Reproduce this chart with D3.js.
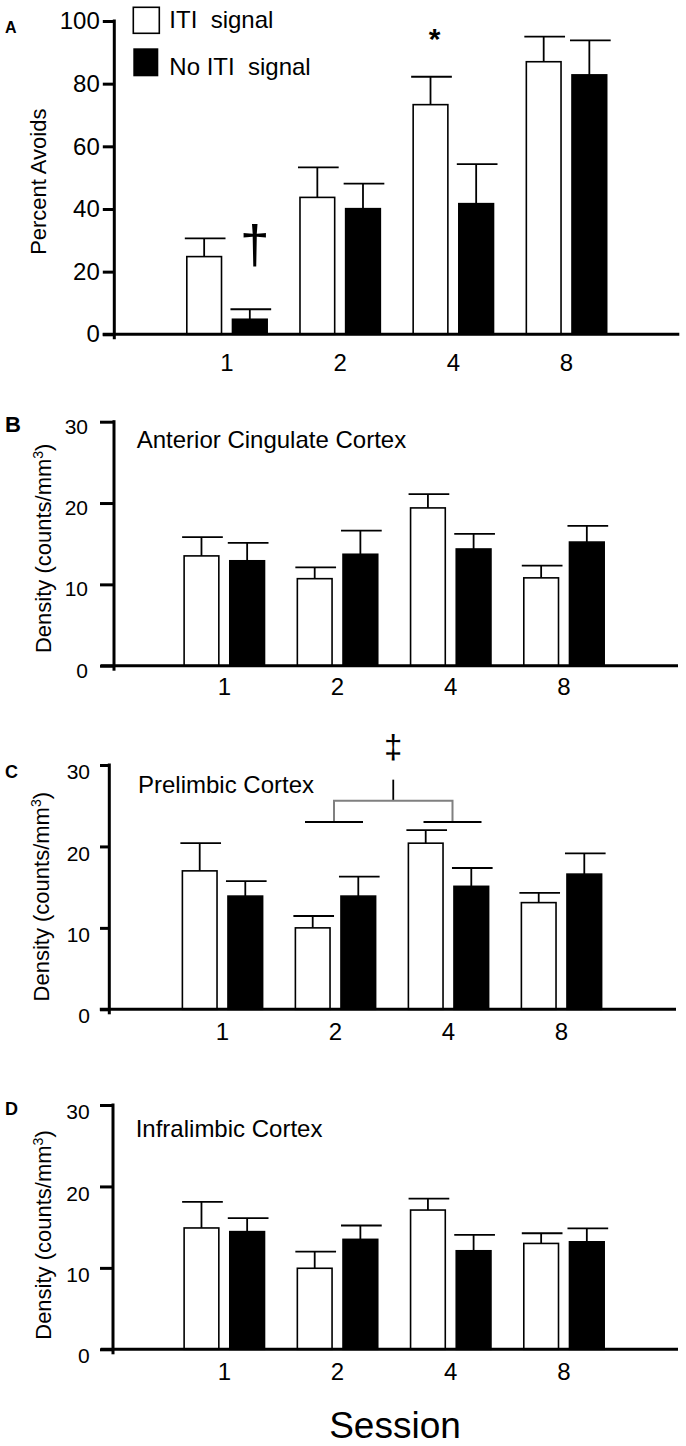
<!DOCTYPE html>
<html>
<head>
<meta charset="utf-8">
<script src="https://cdn.jsdelivr.net/npm/d3@7"></script>
<style>
  html, body { margin: 0; padding: 0; background: #fff; }
  svg { display: block; font-family: "Liberation Sans", Arial, Helvetica, sans-serif; }
</style>
</head>
<body>
<svg id="chart"></svg>
<script>
// ── DATA ───────────────────────────────────────────────────────────────────
const sessions = ["1", "2", "4", "8"];
const groups   = ["ITI signal", "No ITI signal"];

// A: percent avoids
const avoidITI      = [24.8, 43.7, 73.3, 87.0];
const avoidITIErr   = [5.8, 9.6, 8.9, 8.0];
const avoidNoITI    = [4.8, 40.1, 41.7, 82.8];
const avoidNoITIErr = [3.2, 8.0, 12.6, 11.0];

// B: anterior cingulate cortex density
const accITI      = [13.5, 10.7, 19.4, 10.8];
const accITIErr   = [2.3, 1.4, 1.7, 1.5];
const accNoITI    = [12.9, 13.7, 14.35, 15.2];
const accNoITIErr = [2.2, 2.9, 1.85, 2.0];

// C: prelimbic cortex density
const plITI      = [17.0, 10.0, 20.4, 13.1];
const plITIErr   = [3.4, 1.46, 1.6, 1.2];
const plNoITI    = [13.9, 13.9, 15.1, 16.6];
const plNoITIErr = [1.85, 2.4, 2.25, 2.55];

// D: infralimbic cortex density
const ilITI      = [14.9, 9.95, 17.1, 13.0];
const ilITIErr   = [3.2, 2.05, 1.4, 1.25];
const ilNoITI    = [14.45, 13.5, 12.1, 13.2];
const ilNoITIErr = [1.65, 1.7, 1.95, 1.65];

const percentTicks = [0, 20, 40, 60, 80, 100];
const densityTicks = [0, 10, 20, 30];

// ── LAYOUT ────────────────────────────────────────────────────────────────
const W = 686, H = 1446;
const FONT = '"Liberation Sans", Arial, Helvetica, sans-serif';

const svg = d3.select("#chart").attr("width", W).attr("height", H);

const panels = [
  { letter: "A", letterSize: 16, letterY: 33.3,
    iti: avoidITI, itiErr: avoidITIErr, no: avoidNoITI, noErr: avoidNoITIErr,
    yMax: 100, ticks: percentTicks,
    axisX: 114.3, y0: 334.3, yTop: 21, xRange: [170.4, 623.1], line: [102.7, 679.3],
    tickSize: 11.5, tickPad: 3, yFont: 24, yDy: "0.32em", xPad: 20,
    yTitle: "Percent Avoids", yTitlePos: [46, 181.7] },
  { letter: "B", letterSize: 22, letterY: 431.7,
    iti: accITI, itiErr: accITIErr, no: accNoITI, noErr: accNoITIErr,
    yMax: 30, ticks: densityTicks,
    axisX: 114, y0: 665.7, yTop: 421.7, xRange: [167.7, 620.6], line: [100.7, 678],
    tickSize: 14, tickPad: 12, yFont: 21, yDy: "0.55em", xPad: 12.6,
    title: "Anterior Cingulate Cortex", titlePos: [136.7, 448.3],
    density: true, yTitlePos: [50.5, 548.3] },
  { letter: "C", letterSize: 18, letterY: 778,
    iti: plITI, itiErr: plITIErr, no: plNoITI, noErr: plNoITIErr,
    yMax: 30, ticks: densityTicks,
    axisX: 109.3, y0: 1009.3, yTop: 765, xRange: [166, 618], line: [99.8, 676],
    tickSize: 9.3, tickPad: 10, yFont: 21, yDy: "0.65em", xPad: 13.7,
    title: "Prelimbic Cortex", titlePos: [138, 793.3],
    density: true, yTitlePos: [49, 896.7] },
  { letter: "D", letterSize: 18, letterY: 1115,
    iti: ilITI, itiErr: ilITIErr, no: ilNoITI, noErr: ilNoITIErr,
    yMax: 30, ticks: densityTicks,
    axisX: 113, y0: 1349.3, yTop: 1105, xRange: [167.7, 620.6], line: [100.7, 678],
    tickSize: 13, tickPad: 10.3, yFont: 21, yDy: "0.65em", xPad: 13.7,
    title: "Infralimbic Cortex", titlePos: [135.7, 1136.7],
    density: true, yTitlePos: [50.5, 1235] }
];

function drawPanel(p) {
  const g = svg.append("g");

  const y = d3.scaleLinear().domain([0, p.yMax]).range([p.y0, p.yTop]);
  const x0 = d3.scaleBand().domain(sessions).range(p.xRange)
    .paddingInner(0.29).paddingOuter(0.145);
  const x1 = d3.scaleBand().domain(groups).range([0, x0.bandwidth()])
    .paddingInner(0.24);
  const bw = x1.bandwidth();

  const rows = sessions.flatMap((s, i) => [
    { s, g: groups[0], v: p.iti[i], e: p.itiErr[i] },
    { s, g: groups[1], v: p.no[i],  e: p.noErr[i] }
  ]);
  const cx = d => x0(d.s) + x1(d.g) + bw / 2;

  // error bars (drawn first, the bar covers the stem base)
  g.selectAll(".err").data(rows).join("line")
    .attr("class", "err")
    .attr("x1", cx).attr("x2", cx)
    .attr("y1", d => y(d.v)).attr("y2", d => y(d.v + d.e))
    .attr("stroke", "#000").attr("stroke-width", 1.8);
  g.selectAll(".cap").data(rows).join("line")
    .attr("class", "cap")
    .attr("x1", d => cx(d) - bw / 2 - 2).attr("x2", d => cx(d) + bw / 2 + 4)
    .attr("y1", d => y(d.v + d.e)).attr("y2", d => y(d.v + d.e))
    .attr("stroke", "#000").attr("stroke-width", 1.8);

  // bars
  g.selectAll(".bar").data(rows).join("rect")
    .attr("class", "bar")
    .attr("x", d => x0(d.s) + x1(d.g))
    .attr("y", d => y(d.v))
    .attr("width", bw)
    .attr("height", d => y(0) - y(d.v))
    .attr("fill", d => d.g === groups[0] ? "#fff" : "#000")
    .attr("stroke", "#000").attr("stroke-width", 1.6);

  // x baseline
  g.append("line")
    .attr("x1", p.line[0]).attr("x2", p.line[1])
    .attr("y1", y(0)).attr("y2", y(0))
    .attr("stroke", "#000").attr("stroke-width", 3);

  // y axis
  g.append("g")
    .attr("transform", `translate(${p.axisX},0)`)
    .call(d3.axisLeft(y).tickValues(p.ticks).tickSize(p.tickSize)
      .tickPadding(p.tickPad).tickSizeOuter(0))
    .attr("font-family", FONT).attr("font-size", p.yFont)
    .call(ax => ax.select(".domain").remove())
    .call(ax => ax.selectAll(".tick line").attr("stroke", "#000").attr("stroke-width", 3))
    .call(ax => ax.selectAll(".tick text").attr("fill", "#000").attr("dy", p.yDy));
  g.append("line")
    .attr("x1", p.axisX).attr("x2", p.axisX)
    .attr("y1", y(p.yMax) - 1.5).attr("y2", y(0) + 5)
    .attr("stroke", "#000").attr("stroke-width", 3);

  // x axis labels
  g.append("g")
    .attr("transform", `translate(0,${y(0)})`)
    .call(d3.axisBottom(x0).tickSize(0).tickPadding(p.xPad))
    .attr("font-family", FONT).attr("font-size", 24)
    .call(ax => ax.select(".domain").remove())
    .call(ax => ax.selectAll(".tick text").attr("fill", "#000"));

  // panel letter
  svg.append("text")
    .attr("x", 5).attr("y", p.letterY)
    .attr("font-size", p.letterSize).attr("font-weight", "bold")
    .text(p.letter);

  // region title
  if (p.title) {
    svg.append("text")
      .attr("x", p.titlePos[0]).attr("y", p.titlePos[1])
      .attr("font-size", 24)
      .text(p.title);
  }

  // y title
  const yt = svg.append("text")
    .attr("transform", `translate(${p.yTitlePos[0]},${p.yTitlePos[1]}) rotate(-90)`)
    .attr("text-anchor", "middle")
    .attr("font-size", 22);
  if (p.density) {
    yt.append("tspan").text("Density (counts/mm");
    yt.append("tspan").attr("font-size", 14).attr("dy", "-8").text("3");
    yt.append("tspan").attr("dy", "8").text(")");
  } else {
    yt.text(p.yTitle);
  }

  return { x0, x1, y, bw };
}

const scalesA = drawPanel(panels[0]);
drawPanel(panels[1]);
const scalesC = drawPanel(panels[2]);
drawPanel(panels[3]);

// ── LEGEND (panel A) ──────────────────────────────────────────────────────
svg.append("rect").attr("x", 133.3).attr("y", 7.3).attr("width", 26).attr("height", 26)
  .attr("fill", "#fff").attr("stroke", "#000").attr("stroke-width", 1.6);
svg.append("rect").attr("x", 133.3).attr("y", 48.3).attr("width", 25).attr("height", 28)
  .attr("fill", "#000");
svg.append("text").attr("x", 169.3).attr("y", 28.3).attr("font-size", 24)
  .style("white-space", "pre").text("ITI  signal");
svg.append("text").attr("x", 169.3).attr("y", 75).attr("font-size", 24)
  .style("white-space", "pre").text("No ITI  signal");

// ── SIGNIFICANCE MARKS ───────────────────────────────────────────────────
{
  const { x0, x1, y, bw } = scalesA;
  svg.append("text")
    .attr("x", x0("1") + x1(groups[1]) + bw / 2 + 5).attr("y", y(22.6))
    .attr("text-anchor", "middle").attr("font-size", 53).attr("fill", "#000")
    .text("†");
  svg.append("text")
    .attr("x", x0("4") + x1(groups[0]) + bw / 2 + 4).attr("y", y(91.2))
    .attr("text-anchor", "middle").attr("font-size", 30).attr("font-weight", "bold")
    .attr("fill", "#000")
    .text("*");
}
{
  const { x0, y } = scalesC;
  const c2 = x0("2") + x0.bandwidth() / 2 - 1.5;
  const c4 = x0("4") + x0.bandwidth() / 2 + 4;
  const mid = (c2 + c4) / 2;
  const capHalf = 29;
  svg.append("text")
    .attr("x", mid).attr("y", y(30.9))
    .attr("text-anchor", "middle").attr("font-size", 33).attr("fill", "#000")
    .text("‡");
  // stem
  svg.append("line").attr("x1", mid).attr("x2", mid)
    .attr("y1", y(28.2)).attr("y2", y(25.6))
    .attr("stroke", "#000").attr("stroke-width", 1.8);
  // gray bracket
  svg.append("path")
    .attr("d", `M${c2},${y(23.0)}V${y(25.6)}H${c4}V${y(23.0)}`)
    .attr("fill", "none").attr("stroke", "#808080").attr("stroke-width", 2);
  // end caps
  [c2, c4].forEach(c => {
    svg.append("line").attr("x1", c - capHalf).attr("x2", c + capHalf)
      .attr("y1", y(23.0)).attr("y2", y(23.0))
      .attr("stroke", "#000").attr("stroke-width", 1.8);
  });
}

// ── X TITLE ───────────────────────────────────────────────────────────────
svg.append("text")
  .attr("x", 395).attr("y", 1438)
  .attr("text-anchor", "middle").attr("font-size", 37)
  .text("Session");
</script>
</body>
</html>
